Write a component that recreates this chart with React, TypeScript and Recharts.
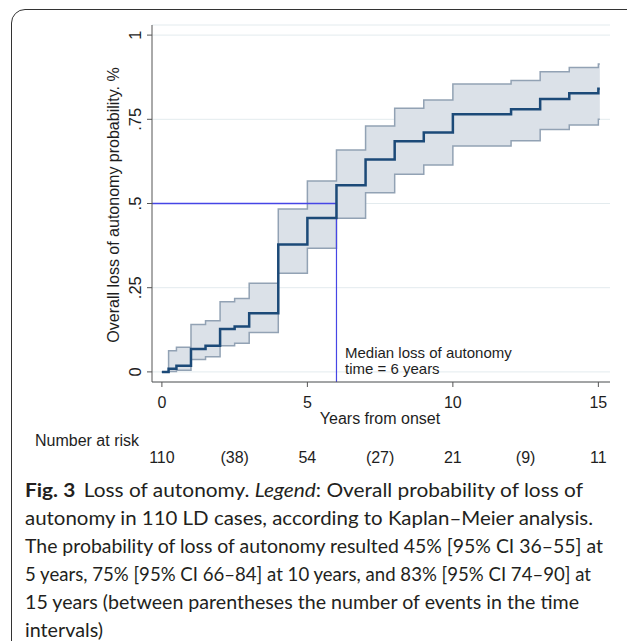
import React from "react";
import {
  ComposedChart, Area, Line, XAxis, YAxis, CartesianGrid, ReferenceLine,
} from "recharts";

// Kaplan–Meier loss of autonomy
const times = [0, 0.23, 0.5, 1, 1.5, 2, 2.5, 3, 4, 5, 6, 7, 8, 9, 10, 12, 13, 14, 15, 15.05];
const estimate = [0, 0.009, 0.018, 0.068, 0.078, 0.127, 0.135, 0.174, 0.378, 0.457, 0.554, 0.631, 0.685, 0.711, 0.765, 0.78, 0.81, 0.827, 0.841, 0.841];
const upperCI = [0, 0.063, 0.073, 0.141, 0.152, 0.208, 0.218, 0.263, 0.484, 0.567, 0.659, 0.73, 0.783, 0.807, 0.855, 0.865, 0.891, 0.904, 0.914, 0.914];
const lowerCI = [0, 0.001, 0.005, 0.037, 0.045, 0.078, 0.085, 0.117, 0.293, 0.367, 0.456, 0.532, 0.587, 0.614, 0.671, 0.686, 0.72, 0.733, 0.75, 0.75];

const yTicks = [0, 0.25, 0.5, 0.75, 1];
const yTickLabels = ["0", ".25", ".5", ".75", "1"];
const xTicks = [0, 5, 10, 15];
const riskTimes = [0, 2.5, 5, 7.5, 10, 12.5, 15];
const riskLabels = ["110", "(38)", "54", "(27)", "21", "(9)", "11"];
const medianTime = 6;
const medianProb = 0.5;

const captionLines = [
  "autonomy in 110 LD cases, according to Kaplan–Meier analysis.",
  "The probability of loss of autonomy resulted 45% [95% CI 36–55] at",
  "5 years, 75% [95% CI 66–84] at 10 years, and 83% [95% CI 74–90] at",
  "15 years (between parentheses the number of events in the time",
  "intervals)",
];

const X_DOMAIN: [number, number] = [-0.34, 15.4];
const Y_DOMAIN: [number, number] = [-0.03, 1.03];
const FONT = '"Liberation Sans", Arial, sans-serif';
const CAP_FONT = 'Lato, "Open Sans", sans-serif';
const INK = "#1e1e1e";
const AXIS = "#555";
const MEDIAN = "#4646e6";

const data = times.map((t, i) => ({
  t,
  est: estimate[i],
  lo: lowerCI[i],
  hi: upperCI[i],
  band: [lowerCI[i], upperCI[i]],
}));

function YTick(props: any) {
  const { y, payload } = props;
  const idx = yTicks.indexOf(payload.value);
  const x = 135;
  return (
    <text x={x} y={y} transform={`rotate(-90, ${x}, ${y})`} textAnchor="middle" dominantBaseline="central"
      fontFamily={FONT} fontSize={16.5} fill={INK}>
      {idx >= 0 ? yTickLabels[idx] : payload.value}
    </text>
  );
}

export default function App() {
  const lineEnds = [593, 603, 591, 579, 103];
  const baselines = [497, 525, 553, 581, 609, 637];
  return (
    <div style={{ position: "absolute", left: 0, top: 0, width: 627, height: 641, overflow: "hidden", background: "#fff" }}>
      <div style={{
        position: "absolute", left: 11, top: 9, width: 650, height: 660,
        border: "1.5px solid #333", borderRadius: 14, boxSizing: "border-box",
      }} />
      <div style={{ position: "absolute", left: 0, top: 0 }}>
        <ComposedChart width={627} height={641} data={data}
          margin={{ top: 25, right: 17, left: 92, bottom: 169 }}>
          <CartesianGrid vertical={false} stroke="#e3ebee" strokeWidth={1} />
          <XAxis dataKey="t" type="number" domain={X_DOMAIN} allowDataOverflow ticks={xTicks}
            height={30} tickSize={5} tickMargin={10} stroke={AXIS}
            tick={{ fill: INK, fontSize: 16, fontFamily: FONT }} />
          <XAxis xAxisId="risk" dataKey="t" type="number" domain={X_DOMAIN} allowDataOverflow ticks={riskTimes}
            height={60} axisLine={false} tickLine={false} tickSize={0} tickMargin={40}
            tickFormatter={(v: number) => riskLabels[riskTimes.indexOf(v)] ?? ""}
            tick={{ fill: INK, fontSize: 16, fontFamily: FONT }} />
          <YAxis type="number" domain={Y_DOMAIN} allowDataOverflow ticks={yTicks} width={60}
            tickSize={5} stroke={AXIS} tick={<YTick />} />
          <Area dataKey="band" type="stepAfter" fill="#dbe1e8" fillOpacity={1} stroke="none"
            isAnimationActive={false} />
          <Line dataKey="hi" type="stepAfter" stroke="#92a2b4" strokeWidth={1.5} dot={false} isAnimationActive={false} />
          <Line dataKey="lo" type="stepAfter" stroke="#92a2b4" strokeWidth={1.5} dot={false} isAnimationActive={false} />
          <ReferenceLine segment={[{ x: X_DOMAIN[0], y: medianProb }, { x: medianTime, y: medianProb }]}
            stroke={MEDIAN} strokeWidth={1.4} ifOverflow="visible" />
          <ReferenceLine segment={[{ x: medianTime, y: medianProb }, { x: medianTime, y: Y_DOMAIN[0] }]}
            stroke={MEDIAN} strokeWidth={1.2} ifOverflow="visible" />
          <Line dataKey="est" type="stepAfter" stroke="#1c4a78" strokeWidth={2.5} dot={false} isAnimationActive={false} />
        </ComposedChart>
      </div>
      <svg width={627} height={641} style={{ position: "absolute", left: 0, top: 0, pointerEvents: "none" }}>
        <text x={113} y={205} transform="rotate(-90, 113, 205)" textAnchor="middle" dominantBaseline="central"
          fontFamily={FONT} fontSize={16} fill={INK}>Overall loss of autonomy probability. %</text>
        <text x={380} y={418} textAnchor="middle" dominantBaseline="central"
          fontFamily={FONT} fontSize={16} fill={INK}>Years from onset</text>
        <text x={345} y={352} dominantBaseline="central" fontFamily={FONT} fontSize={15} fill={INK}>Median loss of autonomy</text>
        <text x={345} y={368} dominantBaseline="central" fontFamily={FONT} fontSize={15} fill={INK}>time = 6 years</text>
        <text x={35} y={440} dominantBaseline="central" fontFamily={FONT} fontSize={16} fill={INK}>Number at risk</text>

        <text x={25} y={baselines[0]} textLength={558} lengthAdjust="spacingAndGlyphs"
          fontFamily={CAP_FONT} fontSize={19.5} fill="#231f20">
          <tspan fontWeight="bold">Fig. 3</tspan>
          <tspan dx={8}>Loss of autonomy. </tspan>
          <tspan fontStyle="italic">Legend</tspan>
          <tspan>: Overall probability of loss of</tspan>
        </text>
        {captionLines.map((s, i) => (
          <text key={i} x={25} y={baselines[i + 1]} textLength={lineEnds[i] - 25} lengthAdjust="spacingAndGlyphs"
            fontFamily={CAP_FONT} fontSize={19.5} fill="#231f20">{s}</text>
        ))}
      </svg>
    </div>
  );
}
